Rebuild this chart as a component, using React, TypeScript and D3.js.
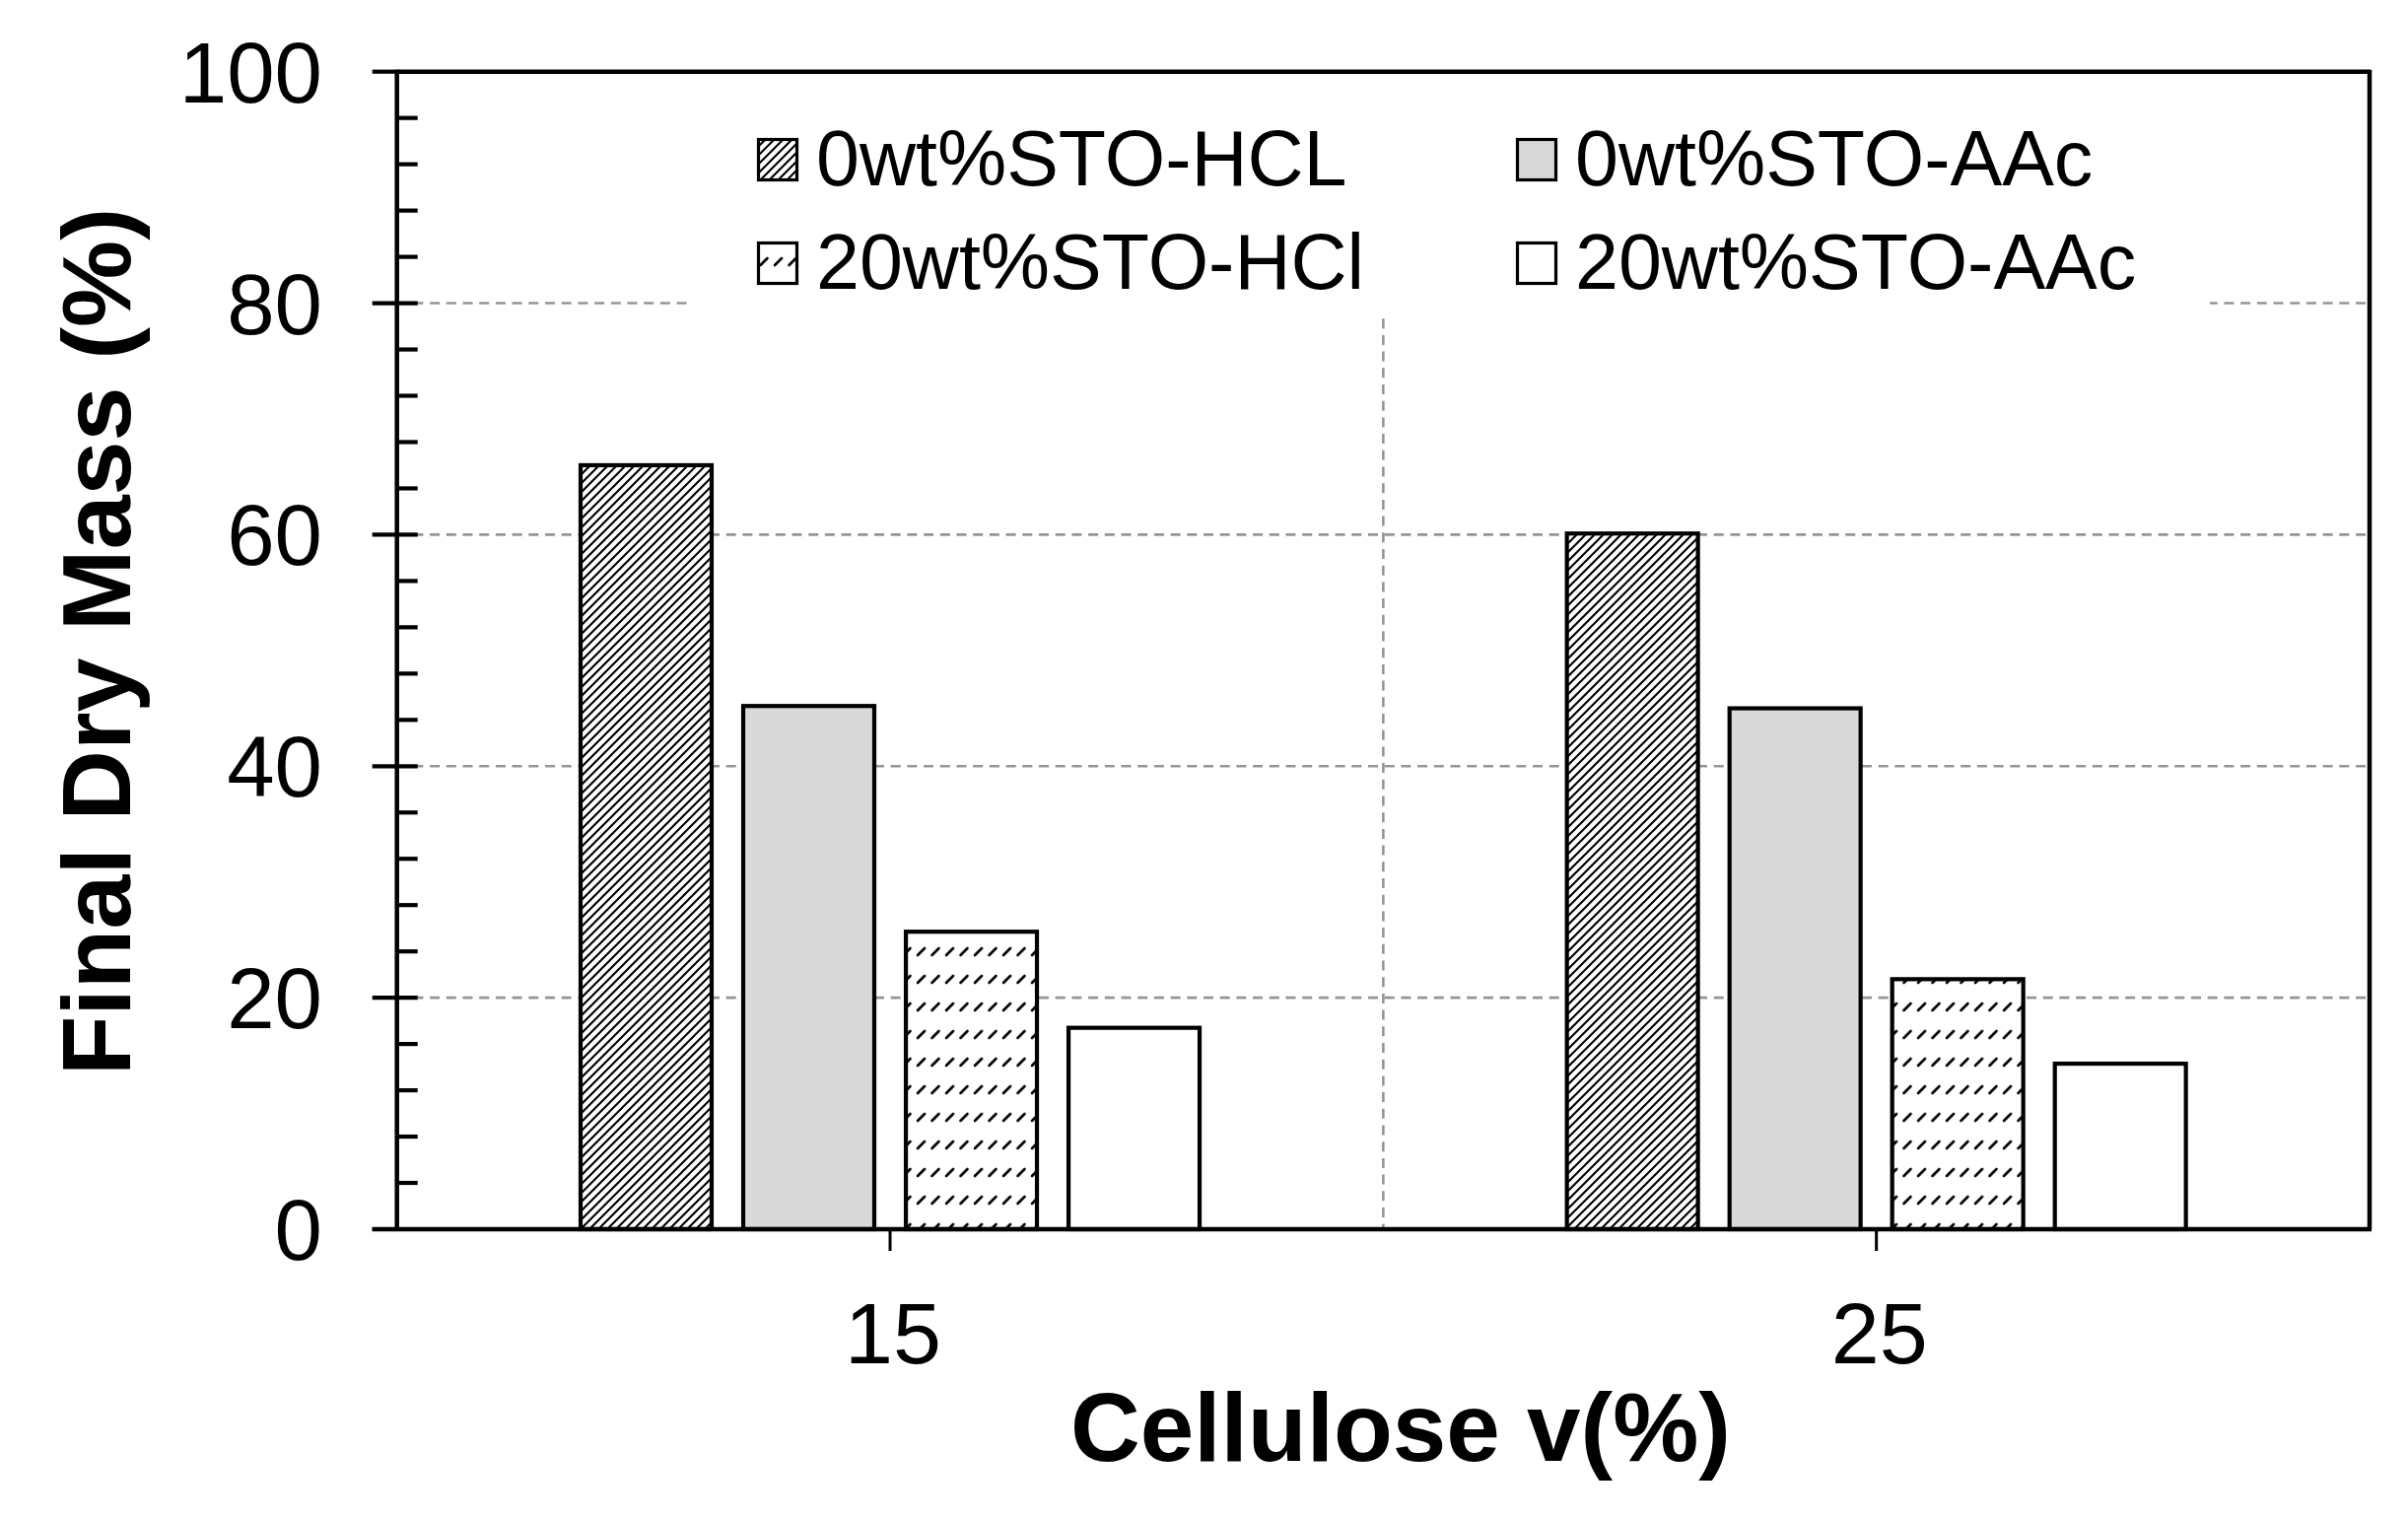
import React from "react";
import * as d3 from "d3";

const categories = ["15", "25"];
const seriesNames = ["0wt%STO-HCL", "0wt%STO-AAc", "20wt%STO-HCl", "20wt%STO-AAc"];
const hcl0 = [66.0, 60.1];
const aac0 = [45.2, 45.0];
const hcl20 = [25.7, 21.6];
const aac20 = [17.4, 14.3];
const seriesValues = [hcl0, aac0, hcl20, aac20];
const yTicks = [0, 20, 40, 60, 80, 100];
const yLabel = "Final Dry Mass (%)";
const xLabel = "Cellulose v(%)";

const W = 2443;
const H = 1542;
const FONT = "'Liberation Sans', Arial, Helvetica, sans-serif";

const fills = ["url(#pDiag)", "#d9d9d9", "url(#pDash)", "#ffffff"];

export default function App() {
  const left = 402.7;
  const right = 2404;
  const top = 72.7;
  const bottom = 1247;

  const y = d3.scaleLinear().domain([0, 100]).range([bottom, top]);
  const x0 = d3.scaleBand<string>().domain(categories).range([left, right]).padding(0);
  const x1 = d3
    .scaleBand<number>()
    .domain(seriesNames.map((_, i) => i))
    .range([-316, 316])
    .paddingInner(0.17)
    .paddingOuter(0);

  const center = (c: string) => (x0(c) as number) + x0.bandwidth() / 2;
  const minor = d3.range(0, 100.01, 4).filter((v) => v % 20 !== 0);
  const gridY = yTicks.filter((v) => v > 0 && v < 100);
  const gridX = categories.slice(1).map((c) => x0(c) as number);

  const legendItems = seriesNames.map((name, i) => ({
    name,
    fill: fills[i],
    col: i % 2,
    row: Math.floor(i / 2),
  }));
  const legX = [768, 1538];
  const legY = [140, 245];

  return (
    <svg
      width={W}
      height={H}
      viewBox={`0 0 ${W} ${H}`}
      style={{ position: "absolute", left: 0, top: 0, background: "#fff" }}
    >
      <defs>
        <pattern id="pDiag" patternUnits="userSpaceOnUse" width={9} height={9}>
          <rect width={9} height={9} fill="#fff" />
          <path d="M-2,2 L2,-2 M0,9 L9,0 M7,11 L11,7" stroke="#000" strokeWidth={2.1} />
        </pattern>
        <pattern id="pDash" patternUnits="userSpaceOnUse" width={14.5} height={28}>
          <rect width={14.5} height={28} fill="#fff" />
          <path d="M3,17 L10,10" stroke="#000" strokeWidth={2.6} strokeLinecap="round" />
        </pattern>
      </defs>
      <rect x={0} y={0} width={W} height={H} fill="#fff" />

      {/* gridlines */}
      {gridY.map((v) => (
        <line
          key={"gy" + v}
          x1={left}
          x2={right}
          y1={y(v)}
          y2={y(v)}
          stroke="#959595"
          strokeWidth={2.6}
          strokeDasharray="10,6.7"
        />
      ))}
      {gridX.map((gx, i) => (
        <line
          key={"gx" + i}
          x1={gx}
          x2={gx}
          y1={top}
          y2={bottom}
          stroke="#959595"
          strokeWidth={2.6}
          strokeDasharray="10,6.7"
        />
      ))}

      {/* legend background */}
      <rect x={697} y={top + 2} width={1545} height={247} fill="#fff" />

      {/* bars */}
      {seriesValues.map((vals, si) =>
        vals.map((v, ci) => {
          const c = categories[ci];
          const bx = center(c) + (x1(si) as number);
          return (
            <rect
              key={`b${si}-${ci}`}
              x={bx + 2}
              y={y(v)}
              width={x1.bandwidth() - 4}
              height={bottom - y(v)}
              fill={fills[si]}
              stroke="#000"
              strokeWidth={4.2}
            />
          );
        })
      )}

      {/* plot border */}
      <line x1={left} x2={right} y1={top} y2={top} stroke="#000" strokeWidth={4.5} />
      <line x1={right} x2={right} y1={top - 2} y2={bottom} stroke="#000" strokeWidth={4.5} />

      {/* y axis */}
      <line x1={left} x2={left} y1={top - 2} y2={bottom + 2} stroke="#000" strokeWidth={4.5} />
      {yTicks.map((v) => (
        <g key={"yt" + v}>
          <line
            x1={left - 25}
            x2={v === 100 ? left : left + 21}
            y1={y(v)}
            y2={y(v)}
            stroke="#000"
            strokeWidth={4.2}
          />
          <text
            x={327}
            y={y(v) + 31}
            textAnchor="end"
            fontFamily={FONT}
            fontSize={87}
            fill="#000"
          >
            {v}
          </text>
        </g>
      ))}
      {minor.map((v) => (
        <line
          key={"ym" + v}
          x1={left}
          x2={left + 21}
          y1={y(v)}
          y2={y(v)}
          stroke="#000"
          strokeWidth={4.2}
        />
      ))}

      {/* x axis */}
      <line x1={left - 25} x2={right + 2} y1={bottom} y2={bottom} stroke="#000" strokeWidth={4.5} />
      {categories.map((c) => (
        <g key={"xt" + c}>
          <line x1={center(c)} x2={center(c)} y1={bottom} y2={bottom + 22} stroke="#000" strokeWidth={3} />
          <text
            x={center(c) + 3}
            y={1383}
            textAnchor="middle"
            fontFamily={FONT}
            fontSize={88}
            fill="#000"
          >
            {c}
          </text>
        </g>
      ))}

      {/* axis titles */}
      <text
        x={1421}
        y={1482}
        textAnchor="middle"
        fontFamily={FONT}
        fontWeight="bold"
        fontSize={98}
        fill="#000"
      >
        {xLabel}
      </text>
      <text
        transform={`translate(132,651) rotate(-90)`}
        textAnchor="middle"
        fontFamily={FONT}
        fontWeight="bold"
        fontSize={99}
        fill="#000"
      >
        {yLabel}
      </text>

      {/* legend */}
      {legendItems.map((it) => (
        <g key={it.name}>
          <rect
            x={legX[it.col] + 1.5}
            y={legY[it.row] + 1.5}
            width={39}
            height={41}
            fill={it.fill}
            stroke="#000"
            strokeWidth={3.2}
          />
          <text
            x={legX[it.col] + 60}
            y={legY[it.row] + 48}
            fontFamily={FONT}
            fontSize={79}
            fill="#000"
          >
            {it.name}
          </text>
        </g>
      ))}
    </svg>
  );
}
